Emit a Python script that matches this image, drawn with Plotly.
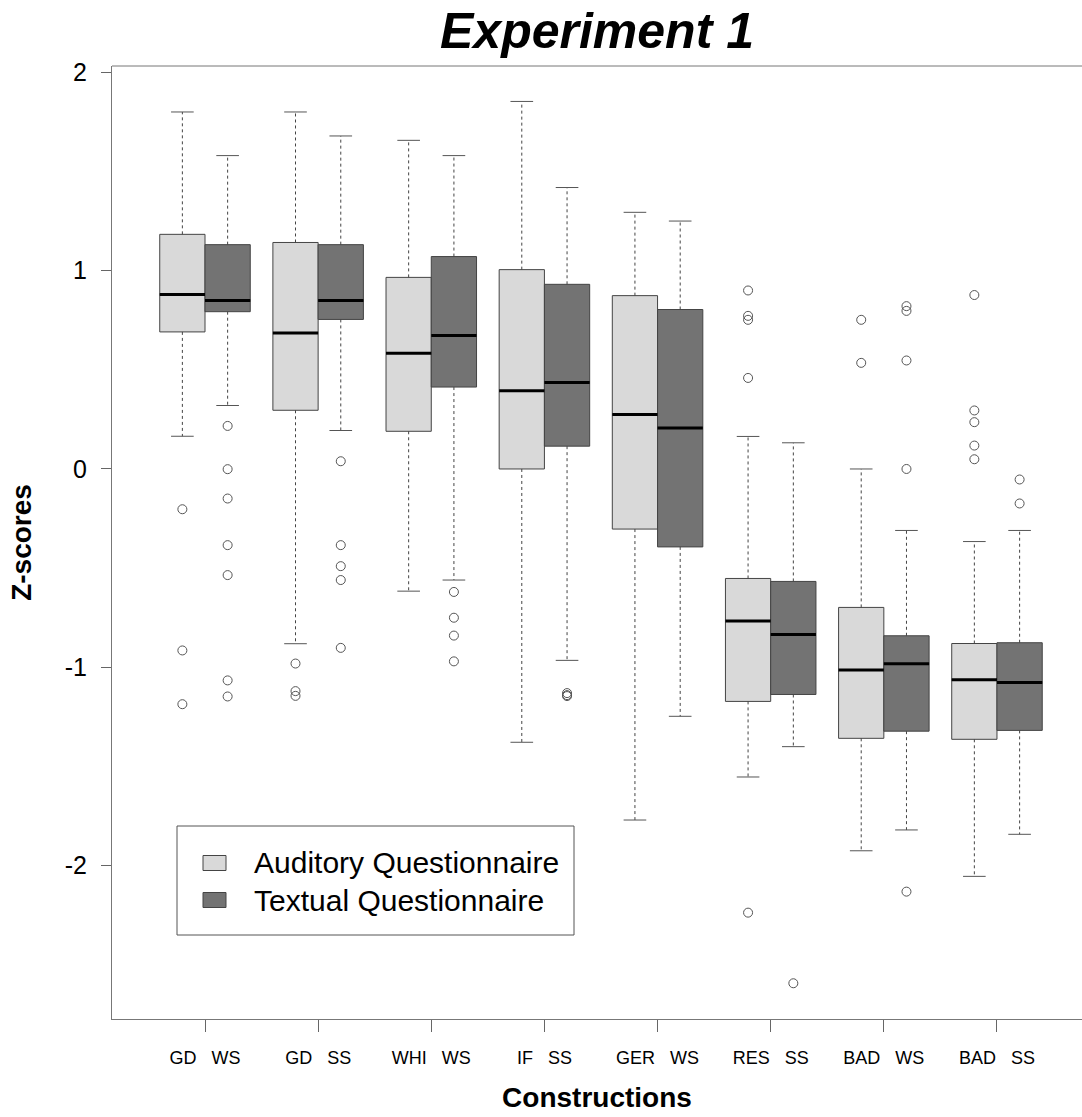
import plotly.graph_objects as go

# ---------------- data ----------------
constructions = ["GD WS", "GD SS", "WHI WS", "IF SS", "GER WS", "RES SS", "BAD WS", "BAD SS"]
y_tick_vals = [-2, -1, 0, 1, 2]
y_tick_text = ["-2", "-1", "0", "1", "2"]

# Auditory Questionnaire
aud_upper = [1.80, 1.80, 1.657, 1.853, 1.294, 0.164, 0.0, -0.366]
aud_q3 = [1.183, 1.142, 0.966, 1.005, 0.874, -0.552, -0.698, -0.880]
aud_median = [0.880, 0.686, 0.584, 0.394, 0.275, -0.767, -1.014, -1.063]
aud_q1 = [0.691, 0.296, 0.190, 0.0, -0.303, -1.172, -1.358, -1.363]
aud_lower = [0.165, -0.881, -0.616, -1.378, -1.770, -1.553, -1.925, -2.054]
aud_outliers = [
    [-0.203, -0.915, -1.186],
    [-0.981, -1.120, -1.144],
    [],
    [],
    [],
    [0.900, 0.772, 0.752, 0.459, -2.237],
    [0.752, 0.535],
    [0.877, 0.295, 0.236, 0.118, 0.049],
]

# Textual Questionnaire
txt_upper = [1.580, 1.679, 1.580, 1.419, 1.250, 0.132, -0.310, -0.310]
txt_q3 = [1.131, 1.131, 1.071, 0.931, 0.804, -0.567, -0.841, -0.876]
txt_median = [0.850, 0.850, 0.673, 0.436, 0.207, -0.834, -0.982, -1.076]
txt_q1 = [0.793, 0.754, 0.413, 0.115, -0.393, -1.137, -1.322, -1.318]
txt_lower = [0.320, 0.194, -0.560, -0.965, -1.247, -1.400, -1.820, -1.842]
txt_outliers = [
    [0.217, -0.001, -0.149, -0.384, -0.535, -1.066, -1.147],
    [0.039, -0.384, -0.490, -0.560, -0.902],
    [-0.620, -0.750, -0.840, -0.970],
    [-1.130, -1.140, -1.145],
    [],
    [-2.593],
    [0.821, 0.797, 0.547, 0.0, -2.131],
    [-0.053, -0.174],
]

series = [
    dict(name="Auditory Questionnaire", color="#d9d9d9", offset=-0.2,
         upper=aud_upper, q3=aud_q3, median=aud_median, q1=aud_q1, lower=aud_lower, out=aud_outliers),
    dict(name="Textual Questionnaire", color="#737373", offset=0.2,
         upper=txt_upper, q3=txt_q3, median=txt_median, q1=txt_q1, lower=txt_lower, out=txt_outliers),
]

# ---------------- layout constants ----------------
W, H = 1082, 1117
ML, MR, MT, MB = 112, 0, 66, 98
BOX_W = 0.4
CAP_HALF = 0.1
EDGE = "#444444"
FONT = "Liberation Sans, Arial, sans-serif"

fig = go.Figure()

centers = list(range(1, len(constructions) + 1))

for s in series:
    xs = [c + s["offset"] for c in centers]
    # box bodies (whiskers drawn separately in R style)
    fig.add_trace(go.Box(
        x=xs, q1=s["q1"], median=s["median"], q3=s["q3"],
        lowerfence=s["q1"], upperfence=s["q3"],
        width=BOX_W, fillcolor=s["color"],
        line=dict(color=EDGE, width=1), whiskerwidth=0,
        boxpoints=False, name=s["name"], showlegend=False, hoverinfo="skip",
    ))
    # dashed whiskers
    wx, wy = [], []
    for x, q1, q3, lo, up in zip(xs, s["q1"], s["q3"], s["lower"], s["upper"]):
        wx += [x, x, None, x, x, None]
        wy += [q3, up, None, q1, lo, None]
    fig.add_trace(go.Scatter(x=wx, y=wy, mode="lines",
                             line=dict(color=EDGE, width=1, dash="3px,3px"),
                             showlegend=False, hoverinfo="skip"))
    # staples
    cx, cy = [], []
    for x, lo, up in zip(xs, s["lower"], s["upper"]):
        cx += [x - CAP_HALF, x + CAP_HALF, None, x - CAP_HALF, x + CAP_HALF, None]
        cy += [up, up, None, lo, lo, None]
    fig.add_trace(go.Scatter(x=cx, y=cy, mode="lines",
                             line=dict(color="#555555", width=1),
                             showlegend=False, hoverinfo="skip"))
    # thick medians
    mx, my = [], []
    for x, m in zip(xs, s["median"]):
        mx += [x - BOX_W / 2, x + BOX_W / 2, None]
        my += [m, m, None]
    fig.add_trace(go.Scatter(x=mx, y=my, mode="lines",
                             line=dict(color="black", width=3),
                             showlegend=False, hoverinfo="skip"))
    # outliers
    ox, oy = [], []
    for x, outs in zip(xs, s["out"]):
        for v in outs:
            ox.append(x)
            oy.append(v)
    fig.add_trace(go.Scatter(x=ox, y=oy, mode="markers",
                             marker=dict(symbol="circle-open", size=9,
                                         color="#555555", line=dict(width=1)),
                             showlegend=False, hoverinfo="skip"))

# ---------------- manual legend (R style) ----------------
pw, ph = W - ML - MR, H - MT - MB


def px(xp):
    return (xp - ML) / pw


def py(yp):
    return (H - MB - yp) / ph


shapes = [
    # top frame line
    dict(type="line", xref="paper", yref="paper", x0=0, x1=1, y0=1, y1=1,
         line=dict(color="#777777", width=1)),
    # legend frame
    dict(type="rect", xref="paper", yref="paper", x0=px(177), x1=px(574), y0=py(935), y1=py(826),
         line=dict(color="#555555", width=1), fillcolor="white", layer="above"),
]
annotations = []
for i, s in enumerate(series):
    yc = 863 + i * 37
    shapes.append(dict(type="rect", xref="paper", yref="paper",
                       x0=px(203), x1=px(226), y0=py(yc + 7.5), y1=py(yc - 7.5),
                       line=dict(color=EDGE, width=1), fillcolor=s["color"], layer="above"))
    annotations.append(dict(text=s["name"], xref="paper", yref="paper",
                            x=px(252), y=py(yc), xanchor="left", yanchor="middle",
                            showarrow=False, font=dict(family=FONT, size=30, color="black")))

fig.update_layout(
    width=W, height=H,
    margin=dict(l=ML, r=MR, t=MT, b=MB, autoexpand=False),
    paper_bgcolor="white", plot_bgcolor="white",
    boxmode="overlay",
    showlegend=False,
    title=dict(text="Experiment 1", x=0.5, xref="paper", xanchor="center",
               y=1 - 30 / H, yref="container", yanchor="middle",
               font=dict(family=FONT, size=50, color="black", weight="bold", style="italic")),
    xaxis=dict(range=[1 - 93 / 113.14, 1 + 877 / 113.14],
               tickmode="array", tickvals=centers,
               ticktext=[c.replace(" ", "\u00a0\u00a0\u00a0") for c in constructions],
               ticks="outside", ticklen=12, tickcolor="#666666", tickwidth=1,
               ticklabelstandoff=10,
               showline=True, linecolor="#777777", linewidth=1,
               showgrid=False, zeroline=False,
               tickfont=dict(family=FONT, size=18, color="black"),
               title=dict(text="Constructions", standoff=20,
                          font=dict(family=FONT, size=28, color="black", weight="bold"))),
    yaxis=dict(range=[(468.8 - 1019) / 198.4, (468.8 - 65.7) / 198.4],
               tickmode="array", tickvals=y_tick_vals, ticktext=y_tick_text,
               ticks="outside", ticklen=10, tickcolor="#666666", tickwidth=1,
               ticklabelstandoff=9,
               showline=True, linecolor="#777777", linewidth=1,
               showgrid=False, zeroline=False,
               tickfont=dict(family=FONT, size=25, color="black"),
               title=dict(text="Z-scores", standoff=24,
                          font=dict(family=FONT, size=28, color="black", weight="bold"))),
    shapes=shapes,
    annotations=annotations,
)

fig.write_html("out.html")
